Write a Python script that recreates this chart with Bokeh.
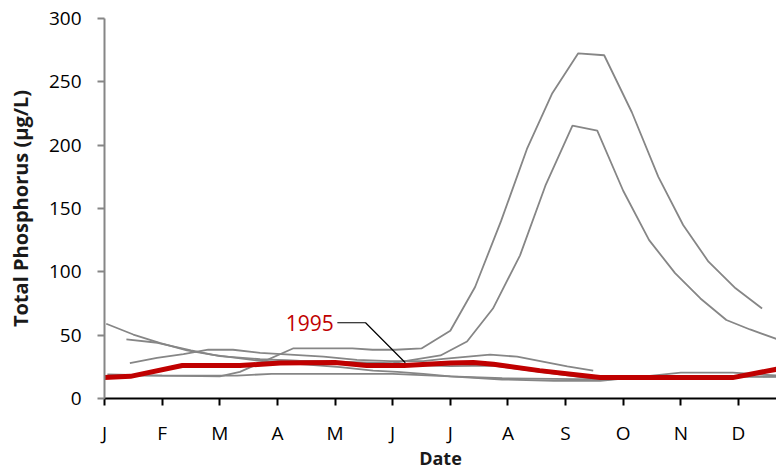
from bokeh.plotting import figure
from bokeh.models import FixedTicker, Range1d, Label
from bokeh.embed import file_html
from bokeh.resources import INLINE

# x positions are in months since Jan 1 (0 = J tick, 1 = F tick, ...)
month_ticks = [0, 1, 2, 3, 4, 5, 6, 7, 8, 9, 10, 11]
month_labels = ["J", "F", "M", "A", "M", "J", "J", "A", "S", "O", "N", "D"]

# highlighted year 1995
x_1995 = [0.0, 0.45, 1.35, 2.35, 3.05, 4.0, 4.55, 5.2, 6.0, 6.4, 6.75, 7.55, 8.6, 10.9, 12.0]
y_1995 = [16.5, 17.5, 26, 26, 28, 28.5, 26, 26, 28, 28.5, 27, 22, 16.5, 16.5, 26]

# other years (grey)
x_a = [0.03, 0.5, 0.97, 1.43, 1.88, 2.65, 3.34, 4.09, 4.66, 5.08, 5.53, 6.0, 6.9, 7.8, 8.7, 9.5, 10.5, 11.7]
y_a = [59, 50.5, 43.7, 38, 34.5, 30, 27.4, 24.7, 22, 21, 19.5, 17.5, 16, 15.5, 15, 17, 17.5, 17]

x_b = [0.38, 0.92, 1.5, 2.0, 2.7, 3.5, 4.3, 5.0, 5.7, 6.0, 6.75, 7.56, 8.5, 9.5, 10.5, 11.7]
y_b = [46.6, 44, 38, 33.5, 31, 29.5, 28, 27, 26, 25.5, 26, 21, 15.5, 16.5, 17, 17.5]

x_c = [0.44, 0.91, 1.37, 1.8, 2.23, 2.7, 3.22, 3.8, 4.38, 4.96, 5.53, 5.88, 6.69, 7.16, 8.03, 8.48]
y_c = [28, 32, 35, 38.5, 38.5, 36, 34.7, 33, 30.5, 29.5, 29.5, 31.3, 34.7, 33, 25.3, 22]

x_d = [0.05, 1.0, 2.0, 2.35, 3.27, 4.3, 4.65, 5.05, 5.5, 6.0, 6.43, 6.88, 7.33, 7.77, 8.22, 8.67, 9.15, 9.61, 10.04, 10.48, 10.95, 11.41]
y_d = [19, 18, 17.5, 21, 39.5, 39.5, 38.5, 38.5, 39.5, 53.5, 88, 140, 197, 241, 272.5, 271, 226, 175, 137, 108, 87, 71]

x_e = [0.4, 2.3, 2.9, 5.0, 6.0, 6.9, 7.8, 8.6, 9.3, 10.0, 10.9, 11.7]
y_e = [18, 18, 19.5, 19.5, 17.5, 15, 14, 14, 17, 20.5, 20.5, 18]

x_f = [3.0, 4.0, 5.0, 5.83, 6.29, 6.74, 7.21, 7.65, 8.12, 8.55, 9.0, 9.45, 9.9, 10.34, 10.79, 11.2, 11.66]
y_f = [30, 29, 28, 34, 45, 71, 113, 168, 215.5, 211.5, 164, 125, 99, 79, 62, 54.5, 47]

y_ticks = [0, 50, 100, 150, 200, 250, 300]

FONT = "Open Sans"

p = figure(width=776, height=472, output_backend="svg", toolbar_location=None,
           x_range=Range1d(0, 11.66), y_range=Range1d(0, 300),
           min_border_left=104, min_border_right=0, min_border_top=18,
           min_border_bottom=74)
p.outline_line_color = None
p.grid.grid_line_color = None
p.background_fill_color = "white"
p.border_fill_color = "white"

grey = "#868686"
for xs, ys in [(x_a, y_a), (x_b, y_b), (x_c, y_c), (x_d, y_d), (x_e, y_e), (x_f, y_f)]:
    p.line(xs, ys, line_color=grey, line_width=1.8)

p.line(x_1995, y_1995, line_color="#C00000", line_width=5)

# annotation leader for 1995
p.line([4.04, 4.53, 5.22], [59.8, 59.8, 28.2], line_color="black", line_width=1.2)
p.add_layout(Label(x=3.98, y=59.8, text="1995", text_color="#C00000",
                   text_font=FONT, text_font_size="21px",
                   text_align="right", text_baseline="middle"))

# x axis
xa = p.xaxis[0]
xa.ticker = FixedTicker(ticks=month_ticks)
xa.major_label_overrides = {t: l for t, l in zip(month_ticks, month_labels)}
xa.axis_line_color = "black"
xa.axis_line_width = 2
xa.major_tick_line_color = "black"
xa.major_tick_line_width = 2
xa.major_tick_out = 7
xa.major_tick_in = 0
xa.minor_tick_line_color = None
xa.major_label_standoff = 14
xa.major_label_text_font = FONT
xa.major_label_text_font_size = "19px"
xa.major_label_text_color = "black"
xa.axis_label = "Date"
xa.axis_label_text_font = FONT
xa.axis_label_text_font_style = "bold"
xa.axis_label_text_font_size = "18px"
xa.axis_label_text_color = "#1a1a1a"
xa.axis_label_standoff = -3

# y axis
ya = p.yaxis[0]
ya.ticker = FixedTicker(ticks=y_ticks)
ya.axis_line_color = grey
ya.axis_line_width = 2
ya.major_tick_line_color = grey
ya.major_tick_line_width = 2
ya.major_tick_out = 7
ya.major_tick_in = 0
ya.minor_tick_line_color = None
ya.major_label_standoff = 16
ya.major_label_text_font = FONT
ya.major_label_text_font_size = "19px"
ya.major_label_text_color = "black"
ya.axis_label = "Total Phosphorus (µg/L)"
ya.axis_label_text_font = FONT
ya.axis_label_text_font_style = "bold"
ya.axis_label_text_font_size = "20px"
ya.axis_label_text_color = "#1a1a1a"
ya.axis_label_standoff = 12

open("out.html", "w").write(file_html(p, INLINE))
